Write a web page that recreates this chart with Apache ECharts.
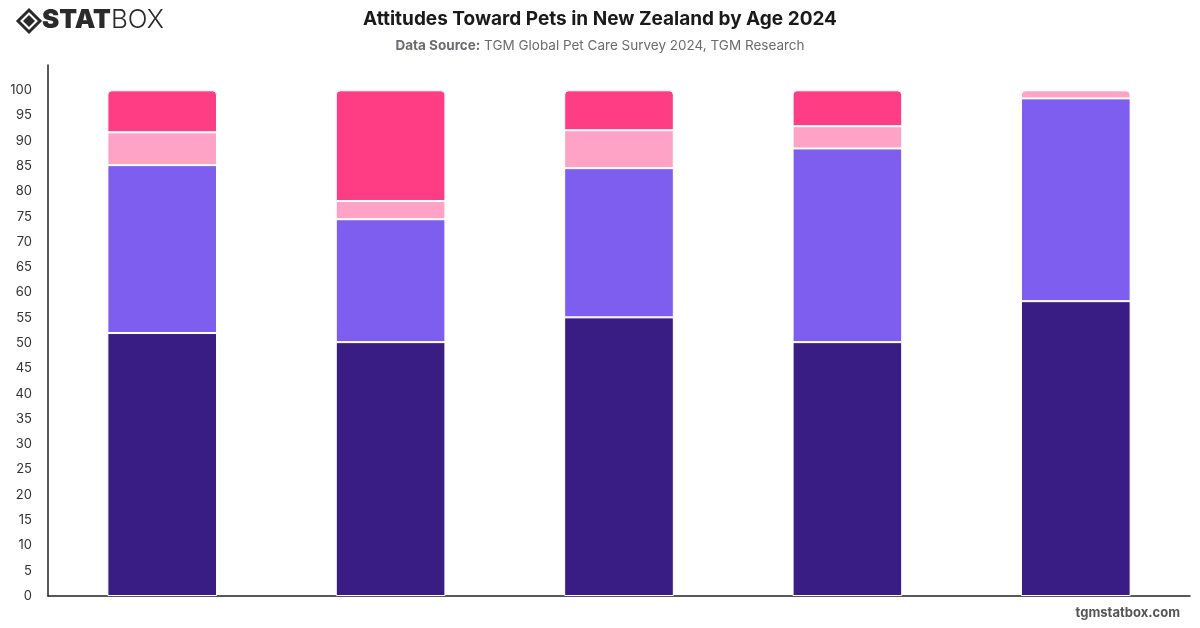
<!DOCTYPE html>
<html>
<head>
<meta charset="utf-8">
<script src="https://cdn.jsdelivr.net/npm/echarts@6/dist/echarts.min.js"></script>
<style>
  html, body { margin: 0; padding: 0; background: #fff; }
  #main { width: 1200px; height: 628px; }
</style>
</head>
<body>
<div id="main"></div>
<script>
const ageGroups = ['18-24', '25-34', '35-44', '45-54', '55+'];
const seriesNames = ['Pets are family members', 'Pets are companions', 'Pets are a responsibility', 'Other'];
const familyValues = [52, 50.2, 55.1, 50.2, 58.3];
const companionValues = [33.2, 24.3, 29.5, 38.3, 40.1];
const responsibilityValues = [6.5, 3.6, 7.5, 4.4, 1.6];
const otherValues = [8.3, 21.9, 7.9, 7.1, 0];
const colors = ['#391d84', '#7e5eee', '#ffa3c6', '#ff3d84'];

const chart = echarts.init(document.getElementById('main'));

const allValues = [familyValues, companionValues, responsibilityValues, otherValues];

// find the topmost non-zero segment per bar so only it gets rounded corners
const topIndex = ageGroups.map((_, i) => {
  let t = 0;
  allValues.forEach((vals, s) => { if (vals[i] > 0) t = s; });
  return t;
});

const series = allValues.map((vals, s) => ({
  name: seriesNames[s],
  type: 'bar',
  stack: 'total',
  barWidth: '48%',
  data: vals.map((v, i) => ({
    value: v,
    itemStyle: { borderRadius: topIndex[i] === s ? [4, 4, 0, 0] : 0 }
  })),
  itemStyle: { color: colors[s], borderColor: '#fff', borderWidth: 1 }
}));

const option = {
  animation: false,
  textStyle: { fontFamily: 'Inter, sans-serif' },
  title: {
    text: 'Attitudes Toward Pets in New Zealand by Age 2024',
    subtext: '{b|Data Source:} TGM Global Pet Care Survey 2024, TGM Research',
    left: 'center',
    top: 5,
    itemGap: 10,
    textStyle: { fontFamily: 'Inter', fontSize: 19, fontWeight: 'bold', color: '#1a1a1a' },
    subtextStyle: {
      fontFamily: 'Inter', fontSize: 13.5, color: '#6b6b73',
      rich: { b: { fontFamily: 'Inter', fontSize: 13.5, fontWeight: 'bold', color: '#6b6b73' } }
    }
  },
  grid: { left: 48, right: 10, top: 65, bottom: 32 },
  xAxis: {
    type: 'category',
    data: ageGroups,
    axisLine: { lineStyle: { color: '#222', width: 1.5 } },
    axisTick: { show: false },
    axisLabel: { show: false }
  },
  yAxis: {
    type: 'value',
    min: 0,
    max: 105,
    interval: 5,
    axisLine: { show: true, lineStyle: { color: '#222', width: 1.5 } },
    axisTick: { show: false },
    splitLine: { show: false },
    axisLabel: {
      showMaxLabel: false,
      color: '#333',
      fontSize: 13,
      margin: 16,
      formatter: v => (v > 100 ? '' : v)
    }
  },
  series: series,
  graphic: [
    {
      type: 'polygon',
      shape: { points: [[29, 10], [40, 21], [29, 32], [18, 21]] },
      style: { fill: 'none', stroke: '#2a2a2a', lineWidth: 3 }
    },
    {
      type: 'polygon',
      shape: { points: [[29, 15], [35, 21], [29, 27], [23, 21]] },
      style: { fill: '#2a2a2a' }
    },
    {
      type: 'text',
      left: 42,
      top: 7,
      style: {
        text: '{a|STAT}{b|BOX}',
        rich: {
          a: { fontFamily: 'Inter', fontSize: 26, fontWeight: 900, fill: '#2a2a2a' },
          b: { fontFamily: 'Inter', fontSize: 26, fontWeight: 300, fill: '#2a2a2a' }
        }
      }
    },
    {
      type: 'text',
      right: 20,
      top: 607,
      style: {
        text: 'tgmstatbox.com',
        fontFamily: 'Inter',
        fontSize: 13,
        fontWeight: 'bold',
        fill: '#555'
      }
    }
  ]
};

chart.setOption(option);
</script>
</body>
</html>
